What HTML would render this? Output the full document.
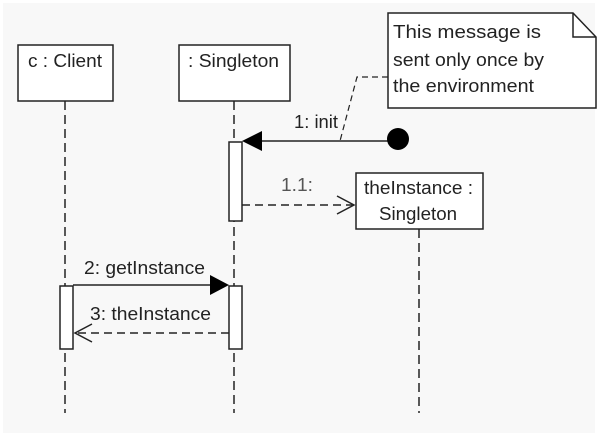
<!DOCTYPE html>
<html><head><style>html,body{margin:0;padding:0;background:#fff}</style></head>
<body>
<svg width="600" height="440" xmlns="http://www.w3.org/2000/svg" font-family="Liberation Sans, sans-serif" font-size="18" fill="#222">
<rect x="0" y="0" width="600" height="440" fill="#fff"/>
<rect x="3" y="3" width="592" height="430" fill="#f8f8f8"/>
<g stroke="#222" stroke-width="1.5" fill="none">
<line x1="65" y1="101" x2="65" y2="413" stroke-dasharray="9,5"/>
<line x1="234" y1="101" x2="234" y2="413" stroke-dasharray="9,5"/>
<line x1="419" y1="229" x2="419" y2="413" stroke-dasharray="9,5"/>
<rect x="18" y="45" width="95" height="56" fill="#fff"/>
<rect x="179" y="45" width="111" height="56" fill="#fff"/>
<rect x="356" y="173" width="127" height="56" fill="#fff"/>
<path d="M388,13 L573,13 L596,37 L596,108 L388,108 Z" fill="#fff"/>
<path d="M573,13 L573,37 L596,37"/>
<path d="M388,77 L357,77 L340,141" stroke-dasharray="6,4" stroke-width="1.2"/>
<rect x="229" y="142" width="13" height="79" fill="#fff"/>
<rect x="60" y="286" width="13" height="63" fill="#fff"/>
<rect x="229" y="286" width="13" height="63" fill="#fff"/>
<line x1="262" y1="141" x2="398" y2="141"/>
<line x1="242" y1="205" x2="354" y2="205" stroke-dasharray="8,5"/>
<path d="M337,196 L354,205 L337,214"/>
<line x1="73" y1="285" x2="212" y2="285"/>
<line x1="229" y1="333" x2="75" y2="333" stroke-dasharray="8,5"/>
<path d="M92,324 L75,333 L92,342"/>
</g>
<circle cx="398" cy="139" r="11" fill="#000"/>
<path d="M242,141 L262,131 L262,151 Z" fill="#000"/>
<path d="M229,285 L210,275 L210,295 Z" fill="#000"/>
<text x="28" y="67" textLength="74" lengthAdjust="spacingAndGlyphs">c : Client</text>
<text x="188" y="67" textLength="91" lengthAdjust="spacingAndGlyphs">: Singleton</text>
<text x="364" y="194" textLength="109" lengthAdjust="spacingAndGlyphs">theInstance :</text>
<text x="379" y="220" textLength="78" lengthAdjust="spacingAndGlyphs">Singleton</text>
<text x="393" y="38" textLength="148" lengthAdjust="spacingAndGlyphs">This message is</text>
<text x="393" y="66" textLength="151" lengthAdjust="spacingAndGlyphs">sent only once by</text>
<text x="393" y="92" textLength="141" lengthAdjust="spacingAndGlyphs">the environment</text>
<text x="294" y="128" textLength="44" lengthAdjust="spacingAndGlyphs">1: init</text>
<text x="281" y="191" fill="#555" textLength="32" lengthAdjust="spacingAndGlyphs">1.1:</text>
<text x="84" y="274" textLength="121" lengthAdjust="spacingAndGlyphs">2: getInstance</text>
<text x="90" y="320" textLength="121" lengthAdjust="spacingAndGlyphs">3: theInstance</text>
</svg>
</body></html>
